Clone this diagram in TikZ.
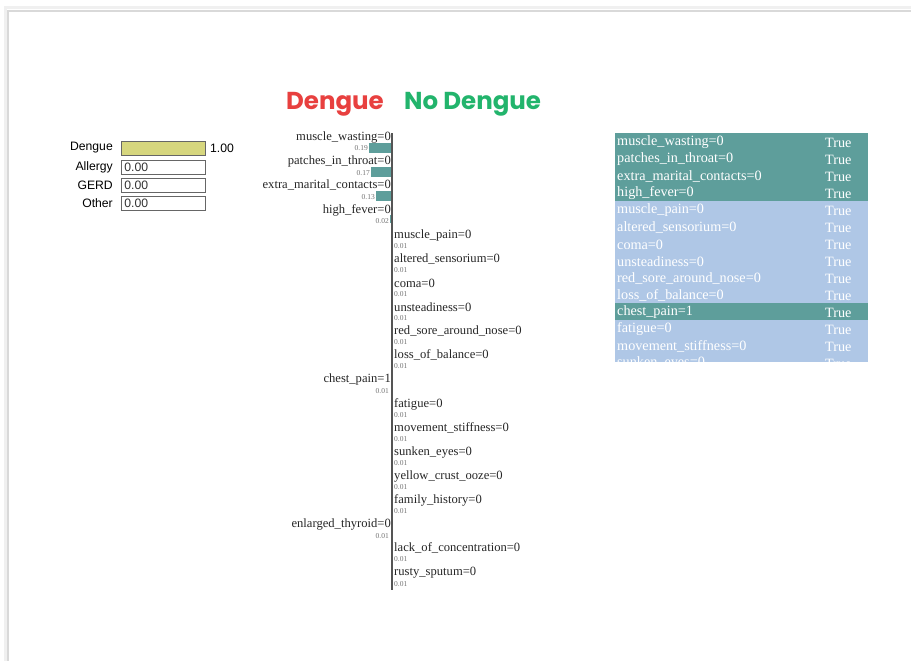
\documentclass[tikz,border=0pt]{standalone}
\usepackage{fontspec}
\setmainfont{Liberation Serif}
\newfontfamily\arialf{Liberation Sans}
\newfontfamily\popf{Poppins}
\definecolor{tealbar}{HTML}{5E9E9B}
\definecolor{lblue}{HTML}{AFC7E6}
\definecolor{dred}{HTML}{E8403F}
\definecolor{dgreen}{HTML}{22B46C}
\definecolor{khaki}{HTML}{D6D67E}
\definecolor{axisc}{HTML}{555555}
\tikzset{
  lab/.style={inner sep=0pt, font=\fontsize{12.6}{13}\selectfont, text=black!85},
  labl/.style={lab, anchor=east},
  labr/.style={lab, anchor=west},
  val/.style={inner sep=0pt, font=\fontsize{7.5}{8}\selectfont, text=black!55},
  bar/.style={fill=tealbar, draw=none},
  probbox/.style={draw=black!60, line width=0.8pt, minimum width=84pt, minimum height=14pt, inner sep=1.5pt, anchor=west, text width=78pt, align=left, font=\arialf\fontsize{12.2}{13}\selectfont, text=black!80},
  problab/.style={anchor=east, inner sep=0pt, font=\arialf\fontsize{12.2}{13}\selectfont},
  trow/.style={inner sep=0pt, anchor=west, font=\fontsize{14.2}{15}\selectfont, text=white},
  title/.style={font=\popf\bfseries\fontsize{24.5}{26}\selectfont, inner sep=0pt},
}
\begin{document}
\begin{tikzpicture}[x=1pt,y=-1pt]
\useasboundingbox (0,0) rectangle (911,661);
\fill[white] (0,0) rectangle (911,661);
% page edge
\draw[black!15, line width=2pt] (8,661) -- (8,11) -- (911,11);
\draw[black!6, line width=3pt] (5,661) -- (5,8) -- (911,8);
% titles
\node[title, text=dred, anchor=east] (tdeng) at (384,104) {Dengue};
\node[title, text=dgreen, anchor=west] (tnodeng) at (404,104) {No Dengue};
% prediction probabilities
\node[probbox, fill=khaki] (bDengue) at (121,148) {};
\node[problab] (lDengue) at (113,148) {Dengue};
\node[anchor=west, inner sep=0pt, font=\arialf\fontsize{12.2}{13}\selectfont] (vDengue) at (210,148) {1.00};
\node[probbox] (bAllergy) at (121,167) {0.00};
\node[problab] (lAllergy) at (113,167) {Allergy};
\node[probbox] (bGERD) at (121,185) {0.00};
\node[problab] (lGERD) at (113,185) {GERD};
\node[probbox] (bOther) at (121,203) {0.00};
\node[problab] (lOther) at (113,203) {Other};
% left bars
\fill[bar] (369,143) rectangle (391,153);
\fill[bar] (371,167) rectangle (391,177);
\fill[bar] (376,191) rectangle (391,201);
\fill[bar] (389.5,215) rectangle (391,223);
\node[labl] (f1) at (391,137) {muscle\_wasting=0};
\node[val, anchor=east] (v1) at (368,148) {0.19};
\node[labl] (f2) at (391,161) {patches\_in\_throat=0};
\node[val, anchor=east] (v2) at (370,173) {0.17};
\node[labl] (f3) at (391,185) {extra\_marital\_contacts=0};
\node[val, anchor=east] (v3) at (375,197) {0.13};
\node[labl] (f4) at (391,210) {high\_fever=0};
\node[val, anchor=east] (v4) at (389,221) {0.02};
% right side labels
\foreach \t/\y [count=\i] in {muscle\_pain=0/235, altered\_sensorium=0/259, coma=0/283, unsteadiness=0/307, red\_sore\_around\_nose=0/331, loss\_of\_balance=0/355, fatigue=0/404, movement\_stiffness=0/428, sunken\_eyes=0/452, yellow\_crust\_ooze=0/476, family\_history=0/500, lack\_of\_concentration=0/548, rusty\_sputum=0/573}{
  \node[labr] (r\i) at (394,\y) {\t};
  \node[val, anchor=west] (rv\i) at (394,\y+11) {0.01};
}
\node[labl] (f5) at (391,379) {chest\_pain=1};
\node[val, anchor=east] (v5) at (389,391) {0.01};
\node[labl] (f6) at (391,524) {enlarged\_thyroid=0};
\node[val, anchor=east] (v6) at (389,536) {0.01};
% axis
\draw[axisc, line width=1.6pt] (392,133) -- (392,590);
% table
\begin{scope}
\clip (615,133) rectangle (868,361);
\foreach \t/\c [count=\i from 0] in {muscle\_wasting=0/tealbar, patches\_in\_throat=0/tealbar, extra\_marital\_contacts=0/tealbar, high\_fever=0/tealbar, muscle\_pain=0/lblue, altered\_sensorium=0/lblue, coma=0/lblue, unsteadiness=0/lblue, red\_sore\_around\_nose=0/lblue, loss\_of\_balance=0/lblue, chest\_pain=1/tealbar, fatigue=0/lblue, movement\_stiffness=0/lblue, sunken\_eyes=0/lblue}{
  \fill[\c] (615,133+17*\i) rectangle (868,150+17*\i);
  \node[trow] (t\i) at (617,142.5+17*\i) {\t};
  \node[trow] (tv\i) at (825,142.5+17*\i) {True};
}
\end{scope}
\end{tikzpicture}
\end{document}
